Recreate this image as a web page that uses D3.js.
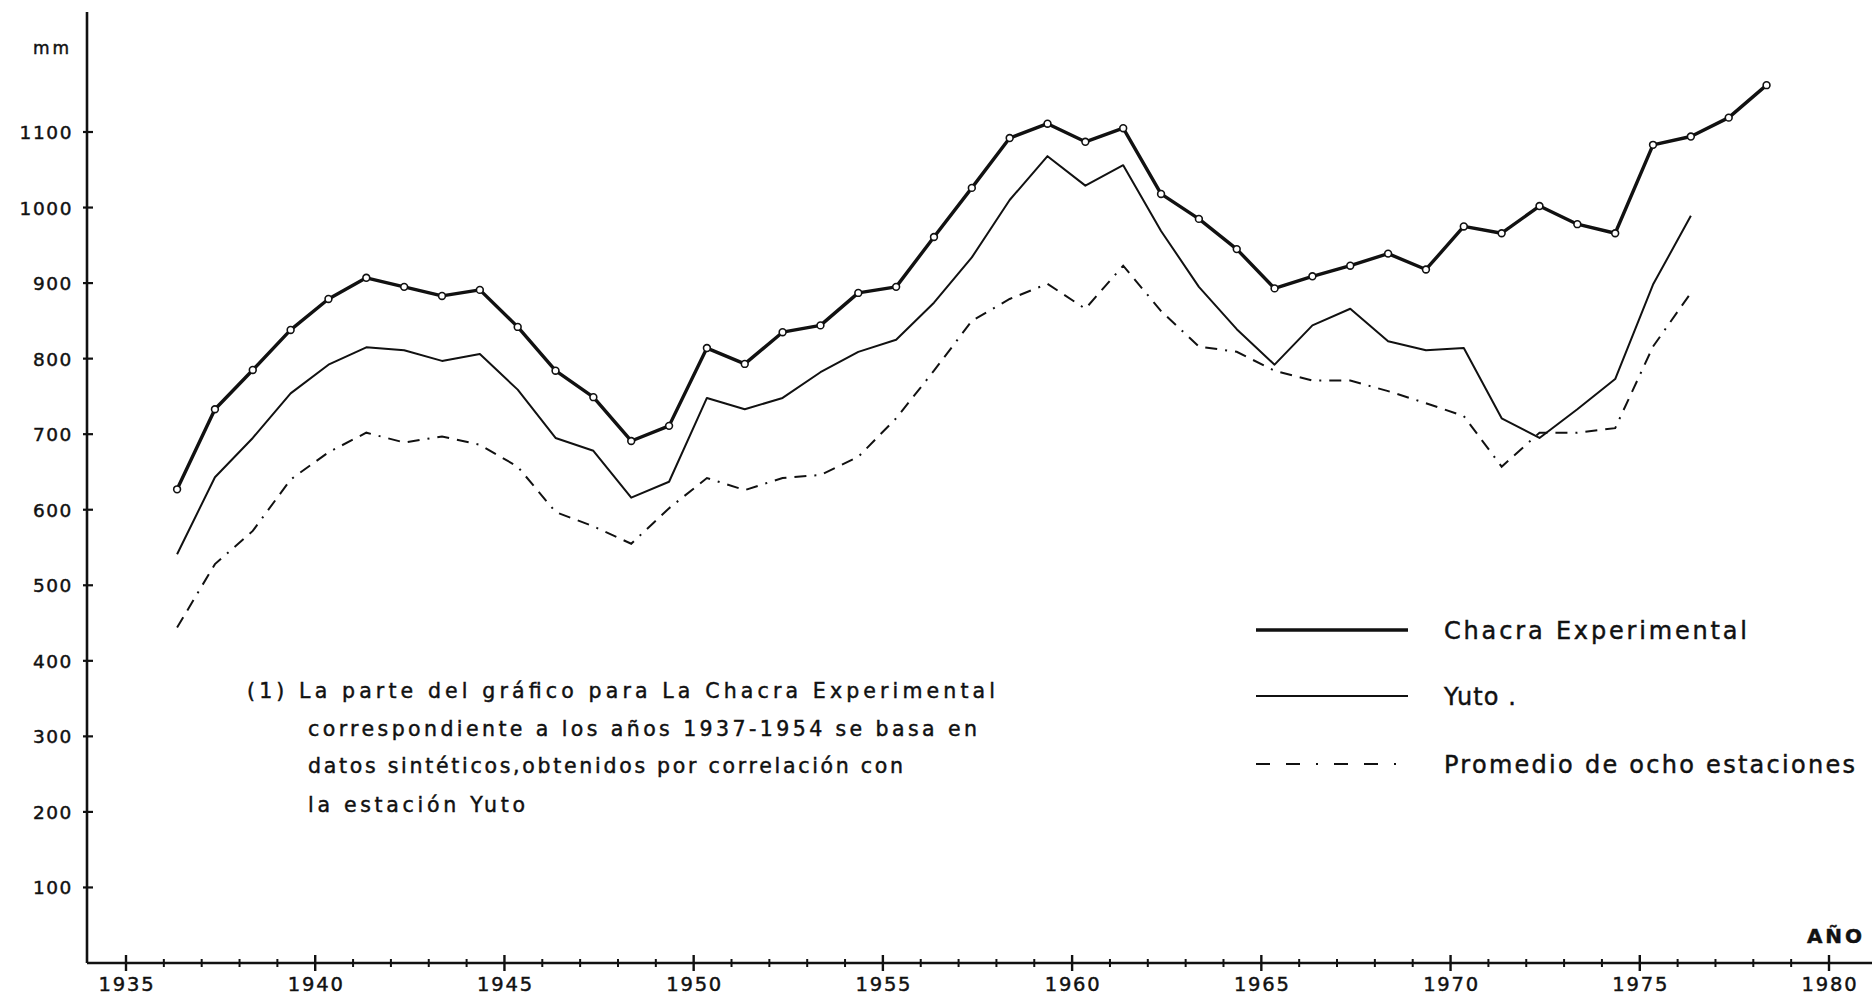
<!DOCTYPE html>
<html>
<head>
<meta charset="utf-8">
<script src="https://cdn.jsdelivr.net/npm/d3@7"></script>
<style>
  html, body { margin: 0; padding: 0; background: #fff; }
  svg { display: block; }
  text { font-family: "DejaVu Sans", sans-serif; fill: #111; stroke: #111; stroke-width: 0.45px; }
</style>
</head>
<body>
<svg id="chart" width="1872" height="998"></svg>
<script>
// Annual precipitation (mm), one value per year
const yearsChacra = [1936,1937,1938,1939,1940,1941,1942,1943,1944,1945,
                     1946,1947,1948,1949,1950,1951,1952,1953,1954,1955,
                     1956,1957,1958,1959,1960,1961,1962,1963,1964,1965,
                     1966,1967,1968,1969,1970,1971,1972,1973,1974,1975,
                     1976,1977,1978];
const chacra = [627,733,785,838,879,907,895,883,891,842,
                784,749,691,711,814,793,835,844,887,895,
                961,1026,1092,1111,1087,1105,1018,985,945,893,
                909,923,939,918,975,966,1002,978,966,1083,
                1094,1119,1162];

const yearsOther = [1936,1937,1938,1939,1940,1941,1942,1943,1944,1945,
                    1946,1947,1948,1949,1950,1951,1952,1953,1954,1955,
                    1956,1957,1958,1959,1960,1961,1962,1963,1964,1965,
                    1966,1967,1968,1969,1970,1971,1972,1973,1974,1975,
                    1976];
const yuto = [541,643,695,754,792,815,811,797,806,759,
              695,678,616,637,748,733,748,782,809,825,
              874,934,1010,1068,1029,1056,969,895,839,792,
              844,866,823,811,814,721,695,733,773,898,
              989];
const promedio = [444,528,572,640,676,702,689,697,686,657,
                  597,578,555,602,642,626,642,646,670,721,
                  784,850,879,899,866,923,863,816,809,784,
                  771,771,757,741,724,657,702,702,708,816,
                  887];

const yTicks = [100,200,300,400,500,600,700,800,900,1000,1100];
const xLabels = [1935,1940,1945,1950,1955,1960,1965,1970,1975,1980];
const xMinor = d3.range(1935, 1981);

const legendNames = ["Chacra Experimental", "Yuto .", "Promedio de ocho estaciones"];
const noteLines = [
  "(1) La parte del gráfico para La Chacra Experimental",
  "correspondiente a los años 1937-1954 se basa en",
  "datos sintéticos,obtenidos por correlación con",
  "la estación Yuto"
];

const svg = d3.select("#chart");
const x = d3.scaleLinear().domain([1935, 1980]).range([126, 1829]);
const y = d3.scaleLinear().domain([0, 1100]).range([963, 132]);
const yearPos = 0.35; // points sit a little into their year

// Axes
const axisX0 = 87;
svg.append("line").attr("x1", axisX0).attr("x2", axisX0).attr("y1", 12).attr("y2", y(0))
  .attr("stroke", "#111").attr("stroke-width", 2.6);
svg.append("line").attr("x1", axisX0).attr("x2", 1872).attr("y1", y(0)).attr("y2", y(0))
  .attr("stroke", "#111").attr("stroke-width", 2.6);

// y ticks and labels
svg.selectAll(".ytick").data(yTicks).join("line")
  .attr("x1", axisX0 - 4).attr("x2", axisX0 + 6)
  .attr("y1", d => y(d)).attr("y2", d => y(d))
  .attr("stroke", "#111").attr("stroke-width", 2.2);
svg.selectAll(".ylab").data(yTicks).join("text")
  .attr("x", 73).attr("y", d => y(d) + 7)
  .attr("text-anchor", "end")
  .attr("font-size", 18.5).attr("letter-spacing", 1.6)
  .text(d => d);
svg.append("text").attr("x", 72).attr("y", 54).attr("text-anchor", "end")
  .attr("font-size", 17).attr("letter-spacing", 3).text("mm");

// x ticks and labels
svg.selectAll(".xminor").data(xMinor).join("line")
  .attr("x1", d => x(d)).attr("x2", d => x(d))
  .attr("y1", d => y(0) - (d % 5 === 0 ? 8 : 4))
  .attr("y2", d => y(0) + (d % 5 === 0 ? 8 : 4))
  .attr("stroke", "#111").attr("stroke-width", d => d % 5 === 0 ? 2.4 : 2);
svg.selectAll(".xlab").data(xLabels).join("text")
  .attr("x", d => x(d) + 1).attr("y", 991)
  .attr("text-anchor", "middle")
  .attr("font-size", 19.5).attr("letter-spacing", 1.8)
  .text(d => d);
svg.append("text").attr("x", 1836).attr("y", 943).attr("text-anchor", "middle")
  .attr("font-size", 20).attr("font-weight", "bold").attr("letter-spacing", 3).text("AÑO");

// Series
const lineGen = (years) => d3.line()
  .x((d, i) => x(years[i] + yearPos))
  .y(d => y(d));

svg.append("path").datum(promedio)
  .attr("d", lineGen(yearsOther))
  .attr("fill", "none").attr("stroke", "#111").attr("stroke-width", 2)
  .attr("stroke-dasharray", "12,8,12,8,2,8");

svg.append("path").datum(yuto)
  .attr("d", lineGen(yearsOther))
  .attr("fill", "none").attr("stroke", "#111").attr("stroke-width", 2)
  .attr("stroke-linejoin", "round");

svg.append("path").datum(chacra)
  .attr("d", lineGen(yearsChacra))
  .attr("fill", "none").attr("stroke", "#111").attr("stroke-width", 3.4)
  .attr("stroke-linejoin", "round");

svg.selectAll(".mk").data(chacra).join("circle")
  .attr("cx", (d, i) => x(yearsChacra[i] + yearPos))
  .attr("cy", d => y(d))
  .attr("r", 3.4)
  .attr("fill", "#fff").attr("stroke", "#111").attr("stroke-width", 1.6);

// Legend
const legY = [630, 696, 764];
const legWidth = [303, 72, 411];
const legStyles = [
  { w: 3.4, dash: null },
  { w: 2, dash: null },
  { w: 2, dash: "14,16,14,16,2,16" }
];
legendNames.forEach((name, i) => {
  const ln = svg.append("line").attr("x1", 1256).attr("x2", 1408)
    .attr("y1", legY[i]).attr("y2", legY[i])
    .attr("stroke", "#111").attr("stroke-width", legStyles[i].w);
  if (legStyles[i].dash) ln.attr("stroke-dasharray", legStyles[i].dash);
  svg.append("text").attr("x", 1444).attr("y", legY[i] + 9)
    .attr("font-size", 24)
    .attr("textLength", legWidth[i]).attr("lengthAdjust", "spacing")
    .text(name);
});

// Footnote
const noteX = [247, 308, 308, 308];
const noteY = [698, 736, 773, 812];
const noteWidth = [748, 669, 595, 217];
noteLines.forEach((t, i) => {
  svg.append("text").attr("x", noteX[i]).attr("y", noteY[i])
    .attr("font-size", 20.5)
    .attr("textLength", noteWidth[i]).attr("lengthAdjust", "spacing")
    .text(t);
});
</script>
</body>
</html>
